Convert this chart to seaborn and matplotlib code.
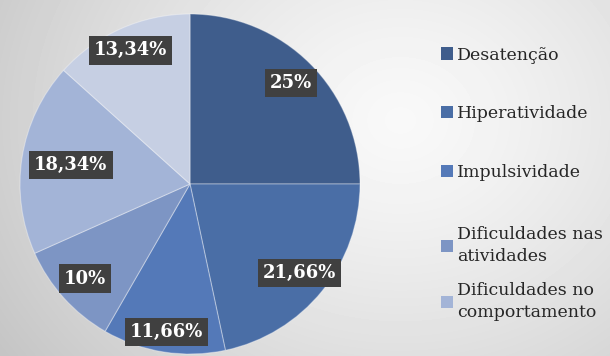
import numpy as np
import seaborn as sns
import matplotlib.pyplot as plt
from matplotlib.patches import Patch

# data
categories = ["Desatenção", "Hiperatividade", "Impulsividade",
              "Dificuldades nas\natividades", "Dificuldades no\ncomportamento", ""]
shares = [25, 21.66, 11.66, 10, 18.34, 13.34]
pct_labels = ["25%", "21,66%", "11,66%", "10%", "18,34%", "13,34%"]
colors = ["#3F5D8C", "#4A6EA6", "#5479B8", "#7D95C4", "#A3B4D7", "#C6CFE3"]
label_dist = [0.84, 0.83, 0.88, 0.83, 0.71, 0.86]

sns.set_theme(style="white")
plt.rcParams["font.family"] = ["DejaVu Serif"]

fig = plt.figure(figsize=(6.1, 3.56), dpi=100)

# soft grey radial background
bg = fig.add_axes([0, 0, 1, 1], zorder=0)
yy, xx = np.mgrid[0:356, 0:610]
d = np.hypot(xx - 400, (yy - 120) / 0.85)
shade = np.clip(0.975 - 0.17 * (d / 420) ** 1.3, 0.77, 1)
bg.imshow(shade, cmap="gray", vmin=0, vmax=1, aspect="auto")
bg.axis("off")

ax = fig.add_axes([20 / 610, 2 / 356, 340 / 610, 340 / 356], zorder=1)
wedges, _ = ax.pie(shares, colors=colors, startangle=90, counterclock=False,
                   radius=1, wedgeprops=dict(edgecolor=(1, 1, 1, 0.35), linewidth=0.8))
ax.set_xlim(-1, 1)
ax.set_ylim(-1, 1)
ax.set_aspect("equal")

for w, lab, r in zip(wedges, pct_labels, label_dist):
    ang = np.deg2rad((w.theta1 + w.theta2) / 2)
    ax.text(r * np.cos(ang), r * np.sin(ang), lab, ha="center", va="center",
            color="white", fontsize=13, fontweight="bold",
            bbox=dict(boxstyle="square,pad=0.28", fc="#404040", ec="none"))

# legend in two blocks: one-line entries and two-line entries
handles = [Patch(facecolor=c, edgecolor="none") for c in colors[:5]]
leg_kw = dict(loc="upper left", frameon=False, fontsize=12.5, handlelength=0.7,
              handleheight=0.7, handletextpad=0.25, labelcolor="#262626")
leg1 = fig.legend(handles[:3], categories[:3], bbox_to_anchor=(425 / 610, 1 - 31 / 356),
                  labelspacing=2.4, **leg_kw)
leg2 = fig.legend(handles[3:5], categories[3:5], bbox_to_anchor=(425 / 610, 1 - 210 / 356),
                  labelspacing=1.0, **leg_kw)
for t in leg2.get_texts():
    t.set_linespacing(1.4)

fig.savefig("out.png", dpi=100)
